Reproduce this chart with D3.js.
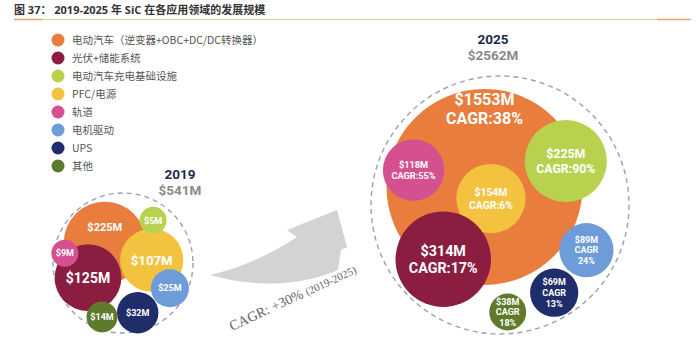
<!DOCTYPE html>
<html>
<head>
<meta charset="utf-8">
<script src="https://cdn.jsdelivr.net/npm/d3@7"></script>
<style>
    body { margin: 0; background: #fff; }
    svg { display: block; font-family: "Open Sans", "Noto Sans CJK SC", sans-serif; }
</style>
</head>
<body>
<svg id="chart" width="700" height="353"></svg>
<script>
/*****************************************************************************
 *  Data
 */
var CATEGORIES = ["电动汽车（逆变器+OBC+DC/DC转换器）", "光伏+储能系统", "电动汽车充电基础设施",
    "PFC/电源", "轨道", "电机驱动", "UPS", "其他"];
var VALUES_2019 = [225, 125, 5, 107, 9, 25, 32, 14];
var VALUES_2025 = [1553, 314, 225, 154, 118, 89, 69, 38];
var CAGR_2025 = [38, 17, 90, 6, 55, 24, 13, 18];
var YEARS = ["2019", "2025"];
var TOTALS = [541, 2562];
var CAGR_TOTAL = "CAGR: +30%";
var CAGR_PERIOD = "(2019-2025)";
var TITLE = "图 37： 2019-2025 年 SiC 在各应用领域的发展规模";

/*****************************************************************************
 *  Style / layout
 */
var COLORS = ["#E87D3E", "#8B1D41", "#B8D14E", "#F3C33F", "#D4508E", "#6E9CD8", "#1F2D6B", "#5E7B2C"];
var DRAW_ORDER = [0, 3, 2, 1, 4, 5, 6, 7];
var MIN_RADIUS = 13.5;
var LABEL_COLOR = "#fff";
var LABEL_FONT = "Roboto, 'Liberation Sans', sans-serif";
var LEGEND_TEXT_COLOR = "#555";
var DASH_COLOR = "#9AA1AA";

// bubble placement inside each year's ring, in units of the ring radius
var PANELS = [
    { cx: 123, cy: 263, r: 70, rMax: 41, exp: 0.35, fsScale: 0.42, fsMax: 14, head: [180, 179],
      spots: [[-0.26, -0.29, -0.38, 11], [-0.50, 0.21], [0.43, -0.61], [0.41, -0.04],
              [-0.83, -0.14], [0.67, 0.36], [0.21, 0.71], [-0.30, 0.77]] },
    { cx: 500, cy: 205, r: 129, rMax: 98, exp: 0.45, fsScale: 0.30, fsMax: 16, head: [493, 44],
      spots: [[-0.12, -0.14, -0.80], [-0.44, 0.42], [0.51, -0.34], [-0.07, -0.05],
              [-0.67, -0.27], [0.67, 0.35], [0.42, 0.68], [0.06, 0.83]] }
];

var svg = d3.select("#chart");

// Render title and rule
svg.append("text")
    .attr("x", 14)
    .attr("y", 14)
    .attr("font-size", 11)
    .attr("font-weight", 700)
    .attr("fill", "#333")
    .text(TITLE);

svg.append("line")
    .attr("x1", 14).attr("x2", 692)
    .attr("y1", 19.5).attr("y2", 19.5)
    .attr("stroke", "#DCCAA8")
    .attr("stroke-width", 1);
svg.append("line")
    .attr("x1", 14).attr("x2", 42)
    .attr("y1", 19.5).attr("y2", 19.5)
    .attr("stroke", "#EFA060")
    .attr("stroke-width", 1.5);
svg.append("line")
    .attr("x1", 657).attr("x2", 690)
    .attr("y1", 19.5).attr("y2", 19.5)
    .attr("stroke", "#EFA060")
    .attr("stroke-width", 1.5);

// Render legend
var legendY = d3.scaleLinear().domain([0, 1]).range([40, 58]);
var legend = svg.selectAll(".legend-item")
    .data(CATEGORIES)
    .enter()
    .append("g")
    .attr("class", "legend-item")
    .attr("transform", (d, i) => "translate(58," + legendY(i) + ")");
legend.append("circle")
    .attr("r", 6.5)
    .attr("fill", (d, i) => COLORS[i]);
legend.append("text")
    .attr("x", 14)
    .attr("y", 4)
    .attr("font-family", "'Noto Sans CJK SC', sans-serif")
    .attr("font-size", 10.5)
    .attr("fill", LEGEND_TEXT_COLOR)
    .text(d => d);

// Render growth arrow
var arrow = d3.path();
arrow.moveTo(210, 275);
arrow.bezierCurveTo(240, 268, 270, 255, 297, 237);
arrow.lineTo(287, 230);
arrow.lineTo(337, 210);
arrow.lineTo(347, 247);
arrow.lineTo(341, 250);
arrow.lineTo(338, 270);
arrow.bezierCurveTo(315, 280, 270, 292, 210, 275);
arrow.closePath();
svg.append("path")
    .attr("d", arrow.toString())
    .attr("fill", "#D3D3D3");

var cagrLabel = svg.append("text")
    .attr("transform", "translate(232,331) rotate(-25)")
    .attr("font-family", "'Liberation Serif', serif")
    .attr("fill", "#666");
cagrLabel.append("tspan")
    .attr("font-size", 14)
    .text(CAGR_TOTAL + " ");
cagrLabel.append("tspan")
    .attr("font-size", 11)
    .text(CAGR_PERIOD);

// Render the two year rings
function renderPanel(p, values, cagr, year, total) {
    var x = d3.scaleLinear().domain([-1, 1]).range([p.cx - p.r, p.cx + p.r]);
    var y = d3.scaleLinear().domain([-1, 1]).range([p.cy - p.r, p.cy + p.r]);
    var rScale = d3.scalePow().exponent(p.exp).domain([0, d3.max(values)]).range([0, p.rMax]);

    svg.append("text")
        .attr("x", p.head[0])
        .attr("y", p.head[1])
        .attr("text-anchor", "middle")
        .attr("font-family", LABEL_FONT)
        .attr("font-size", 13.5)
        .attr("font-weight", 700)
        .attr("fill", "#1F2A4A")
        .text(year);
    svg.append("text")
        .attr("x", p.head[0])
        .attr("y", p.head[1] + 16)
        .attr("text-anchor", "middle")
        .attr("font-family", LABEL_FONT)
        .attr("font-size", 13.5)
        .attr("font-weight", 700)
        .attr("fill", "#8A8A8A")
        .text("$" + total + "M");

    svg.append("circle")
        .attr("cx", p.cx)
        .attr("cy", p.cy)
        .attr("r", p.r)
        .attr("fill", "none")
        .attr("stroke", DASH_COLOR)
        .attr("stroke-width", 1.4)
        .attr("stroke-dasharray", "5,4");

    var items = DRAW_ORDER.map(i => {
        var s = p.spots[i];
        var r = Math.max(MIN_RADIUS, rScale(values[i]));
        var lines = ["$" + values[i] + "M"];
        if (cagr) {
            if (r > 29) lines.push("CAGR:" + cagr[i] + "%");
            else lines.push("CAGR", cagr[i] + "%");
        }
        var fs = s[3] || Math.max(9, Math.min(p.fsMax, r * p.fsScale));
        return { i: i, cx: x(s[0]), cy: y(s[1]), ly: (s[2] || 0) * r, r: r, lines: lines, fs: fs };
    });

    var bubbles = svg.selectAll(".bubble-" + year)
        .data(items)
        .enter()
        .append("g")
        .attr("class", "bubble-" + year);

    bubbles.append("circle")
        .attr("cx", d => d.cx)
        .attr("cy", d => d.cy)
        .attr("r", d => d.r)
        .attr("fill", d => COLORS[d.i]);

    bubbles.each(function (d) {
        var lh = d.fs * 1.2;
        var n = d.lines.length;
        d3.select(this).selectAll("text")
            .data(d.lines)
            .enter()
            .append("text")
            .attr("x", d.cx)
            .attr("y", (t, k) => d.cy + d.ly + (k - (n - 1) / 2) * lh + d.fs * 0.36)
            .attr("text-anchor", "middle")
            .attr("font-family", LABEL_FONT)
            .attr("font-size", d.fs)
            .attr("font-weight", 700)
            .attr("fill", LABEL_COLOR)
            .text(t => t);
    });
}

renderPanel(PANELS[0], VALUES_2019, null, YEARS[0], TOTALS[0]);
renderPanel(PANELS[1], VALUES_2025, CAGR_2025, YEARS[1], TOTALS[1]);
</script>
</body>
</html>
